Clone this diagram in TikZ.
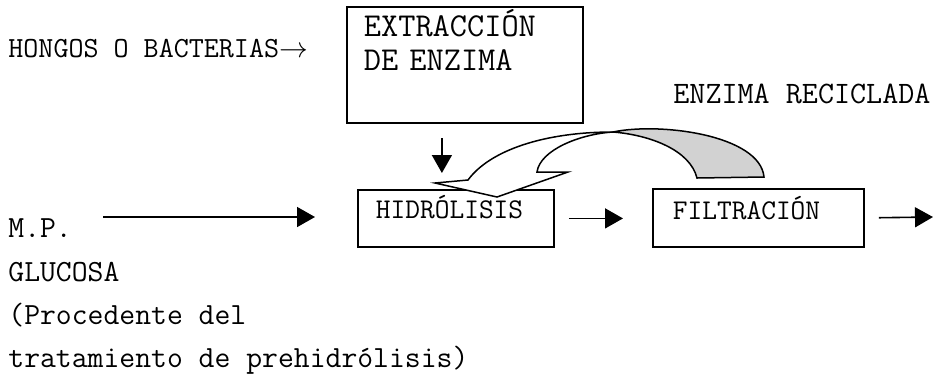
\documentclass[tikz,border=0pt]{standalone}
\usepackage{fontspec}
\newcommand{\fuente}[1]{\ttfamily\fontsize{#1}{#1}\selectfont}
\usetikzlibrary{arrows.meta}

\begin{document}
\begin{tikzpicture}[x=0.5pt, y=-0.5pt,
  caja/.style={draw, line width=0.9pt, anchor=north west, inner ysep=0pt, align=left},
  flecha/.style={line width=0.8pt, -{Triangle[length=9pt, width=10pt]}},
  texto/.style={inner sep=0pt, anchor=base west}]
\useasboundingbox (0,0) rectangle (942,377);
% enzima: origen y extraccion
\node[texto, font=\fuente{14.6}] (hongos) at (8,57.5) {HONGOS O BACTERIAS$\rightarrow$};
\node[caja, font=\fuente{16.7}, text width=101pt, inner xsep=8.5pt] (extr) at (346,6)
  {\rule{0pt}{15pt}EXTRACCIÓN\\DE ENZIMA\rule[-26.5pt]{0pt}{26.5pt}};
% etapas del proceso
\node[caja, font=\fuente{14.3}, text width=80pt, inner xsep=9pt, text height=14.5pt, text depth=14pt] (hidro) at (357,189) {HIDRÓLISIS};
\node[caja, font=\fuente{14.3}, text width=85.5pt, inner xsep=10pt, text height=15.5pt, text depth=13.5pt] (filtr) at (652,188) {FILTRACIÓN};
\node[texto, font=\fuente{15.6}] (recicl) at (673,103) {ENZIMA RECICLADA};
% materia prima
\foreach \y/\lin/\txt in {237/mp/M.P., 281/glu/GLUCOSA, 324/proc/{(Procedente del}, 367/trat/{tratamiento de prehidrólisis)}} {
  \node[texto, font=\fuente{15.4}] (\lin) at (8,\y) {\txt};
}
\coordinate (entrada) at (103,217);
\coordinate (salida) at (933,217);
% flechas
\draw[flecha, shorten >=21pt] (entrada) -- (entrada -| hidro.west);
\draw[flecha, shorten <=7pt, shorten >=8pt] ([xshift=-11.5pt]extr.south) -- ([xshift=-11.5pt]extr.south |- hidro.north);
\draw[flecha, shorten <=7pt, shorten >=14.5pt] (hidro.east) -- (hidro.east -| filtr.west);
\draw[flecha, shorten <=7pt] (filtr.east) -- (salida);
% flecha curva de reciclado (parte de atras en gris)
\draw[line width=0.75pt, fill=gray!35] (613,132) .. controls (660,122) and (760,135) .. (764,177)
  -- (697,178) .. controls (690,150) and (650,135) .. (613,132) -- cycle;
\draw[line width=0.75pt, fill=white] (613,132) .. controls (545,132) and (490,150) .. (468,180)
  -- (435,183) -- (497,197) -- (568,172) -- (537,172) .. controls (540,150) and (580,134) .. (613,132) -- cycle;
\end{tikzpicture}
\end{document}
